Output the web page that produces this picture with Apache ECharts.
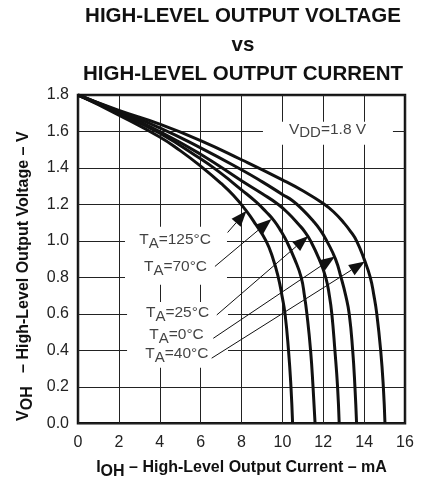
<!DOCTYPE html>
<html><head><meta charset="utf-8">
<script src="https://cdn.jsdelivr.net/npm/echarts@6/dist/echarts.min.js"></script>
<style>html,body{margin:0;padding:0;background:#fff}#c{width:421px;height:480px}</style>
</head><body><div id="c"></div>
<script>
// Curves: [I_OH (mA), V_OH (V)]
const curve125 = [[0,1.8],[2,1.69],[4,1.57],[5,1.495],[6,1.41],[7,1.315],[7.6,1.25],[8.2,1.17],[8.7,1.09],[9.2,1.0],[9.55,0.9],[9.8,0.8],[9.98,0.7],[10.13,0.6],[10.3,0.4],[10.42,0.2],[10.5,0]];
const curve70 = [[0,1.8],[2,1.70],[4,1.59],[6,1.45],[7,1.37],[8,1.28],[8.7,1.215],[9.2,1.16],[9.6,1.11],[9.95,1.05],[10.2,1.0],[10.6,0.9],[10.92,0.8],[11.08,0.7],[11.2,0.6],[11.38,0.4],[11.5,0.2],[11.6,0]];
const curve25 = [[0,1.8],[2,1.705],[4,1.60],[6,1.475],[8,1.33],[9,1.26],[9.8,1.2],[10.3,1.15],[10.8,1.09],[11.1,1.05],[11.38,1.0],[11.8,0.9],[12.12,0.8],[12.3,0.7],[12.42,0.6],[12.57,0.4],[12.7,0.2],[12.78,0]];
const curve0 = [[0,1.8],[2,1.71],[4,1.62],[6,1.51],[8,1.39],[9,1.325],[10,1.255],[10.5,1.22],[11,1.17],[11.5,1.11],[11.85,1.06],[12.17,1.0],[12.6,0.9],[12.87,0.8],[13.1,0.7],[13.27,0.6],[13.44,0.4],[13.55,0.2],[13.63,0]];
const curveM40 = [[0,1.8],[2,1.715],[4,1.64],[6,1.55],[8,1.445],[10,1.335],[11,1.275],[12,1.205],[12.5,1.16],[13.0,1.1],[13.35,1.05],[13.63,1.0],[14.0,0.9],[14.3,0.8],[14.48,0.7],[14.62,0.6],[14.81,0.4],[14.94,0.2],[15.02,0]];

// Annotations (data coordinates)
const labelTexts = ['125°C','70°C','25°C','0°C','40°C'];
const labelPos = [[4.75,1.008],[4.77,0.857],[4.87,0.606],[4.82,0.486],[4.84,0.381]];
const arrowFrom = [[7.32,1.046],[6.70,0.86],[6.79,0.594],[6.62,0.466],[6.54,0.357]];
const arrowTo = [[8.25,1.166],[9.47,1.12],[11.27,1.027],[12.57,0.914],[14.04,0.887]];
const whiteBoxes = [[2.30,1.077,7.29,0.759],[2.40,0.665,7.34,0.304],[9.05,1.654,15.41,1.527]];
const vddPos = [12.21,1.612];
const vddValue = '1.8 V';

const FONT = '"Liberation Sans", Arial, Helvetica, sans-serif';
const INK = '#111';

const chart = echarts.init(document.getElementById('c'));

function curveSeries(name, data) {
  return { name, type: 'line', data, smooth: 0.5, showSymbol: false, symbol: 'none',
    lineStyle: { color: INK, width: 3 }, z: 5, silent: true };
}

const subRich = (size) => ({
  t: { fontFamily: FONT, fontSize: size, color: INK, lineHeight: size + 3 },
  s: { fontFamily: FONT, fontSize: size - 0.5, color: INK, lineHeight: size + 3, padding: [8, 0, 0, 0] }
});
const subRichBold = (size) => ({
  t: { fontFamily: FONT, fontSize: size, fontWeight: 'bold', color: INK, lineHeight: size + 3 },
  s: { fontFamily: FONT, fontSize: size, fontWeight: 'bold', color: INK, lineHeight: size + 3, padding: [8, 0, 0, 0] }
});

const labelData = labelTexts.map((t, i) => ({ value: labelPos[i], txt: '{t|T}{s|A}{t|=' + t + '}' }));
labelData.push({ value: vddPos, txt: '{t|V}{s|DD}{t|=' + vddValue + '}' });

chart.setOption({
  animation: false,
  backgroundColor: '#fff',
  title: {
    text: 'HIGH-LEVEL OUTPUT VOLTAGE\nvs\nHIGH-LEVEL OUTPUT CURRENT',
    left: 243, top: 2, textAlign: 'center', padding: 0,
    textStyle: { fontFamily: FONT, fontSize: 20.5, fontWeight: 'bold', color: INK, lineHeight: 29 }
  },
  grid: { left: 78, right: 16, top: 95, bottom: 56.7, containLabel: false, outerBoundsMode: 'none',
    show: true, borderColor: INK, borderWidth: 2.5, backgroundColor: 'transparent' },
  xAxis: {
    type: 'value', min: 0, max: 16, interval: 2,
    axisLine: { show: false }, axisTick: { show: false },
    axisLabel: { fontFamily: FONT, fontSize: 16, color: '#222', margin: 11 },
    splitLine: { show: true, lineStyle: { color: '#222', width: 1 } },
    name: '{t|I}{s|OH}{t| – High-Level Output Current – mA}',
    nameLocation: 'middle', nameGap: 30,
    nameTextStyle: { rich: subRichBold(16) }
  },
  yAxis: {
    type: 'value', min: 0, max: 1.8, interval: 0.2,
    axisLine: { show: false }, axisTick: { show: false },
    axisLabel: { fontFamily: FONT, fontSize: 16, color: '#222', margin: 9, formatter: v => v.toFixed(1) },
    splitLine: { show: true, lineStyle: { color: '#222', width: 1 } },
    name: '{t|V}{s|OH}{t|   – High-Level Output Voltage – V}',
    nameLocation: 'middle', nameGap: 44,
    nameTextStyle: { rich: subRichBold(16), padding: [0, 34, 0, 0] }
  },
  series: [
    {
      type: 'custom', z: 3, silent: true,
      data: whiteBoxes,
      encode: { x: [0, 2], y: [1, 3] },
      renderItem: (params, api) => {
        const p1 = api.coord([api.value(0), api.value(1)]);
        const p2 = api.coord([api.value(2), api.value(3)]);
        return { type: 'rect', shape: { x: Math.min(p1[0], p2[0]), y: Math.min(p1[1], p2[1]),
          width: Math.abs(p2[0] - p1[0]), height: Math.abs(p2[1] - p1[1]) }, style: { fill: '#fff' } };
      }
    },
    curveSeries('125', curve125),
    curveSeries('70', curve70),
    curveSeries('25', curve25),
    curveSeries('0', curve0),
    curveSeries('-40', curveM40),
    {
      type: 'custom', z: 6, silent: true,
      data: arrowFrom.map((f, i) => [f[0], f[1], arrowTo[i][0], arrowTo[i][1]]),
      encode: { x: [0, 2], y: [1, 3] },
      renderItem: (params, api) => {
        const a = api.coord([api.value(0), api.value(1)]);
        const b = api.coord([api.value(2), api.value(3)]);
        const dx = b[0] - a[0], dy = b[1] - a[1];
        const len = Math.hypot(dx, dy), ux = dx / len, uy = dy / len;
        const L = 16, W = 12;
        const bx = b[0] - ux * L, by = b[1] - uy * L;
        const nx = -uy, ny = ux;
        return { type: 'group', children: [
          { type: 'line', shape: { x1: a[0], y1: a[1], x2: bx, y2: by }, style: { stroke: INK, lineWidth: 1 } },
          { type: 'polygon', shape: { points: [[b[0], b[1]], [bx + nx * W / 2, by + ny * W / 2], [bx - nx * W / 2, by - ny * W / 2]] }, style: { fill: INK } }
        ] };
      }
    },
    {
      type: 'scatter', z: 7, silent: true, symbolSize: 0,
      data: labelData,
      label: {
        show: true, position: 'inside',
        formatter: p => p.data.txt,
        rich: subRich(15.5)
      }
    }
  ]
});
</script>
</body></html>
